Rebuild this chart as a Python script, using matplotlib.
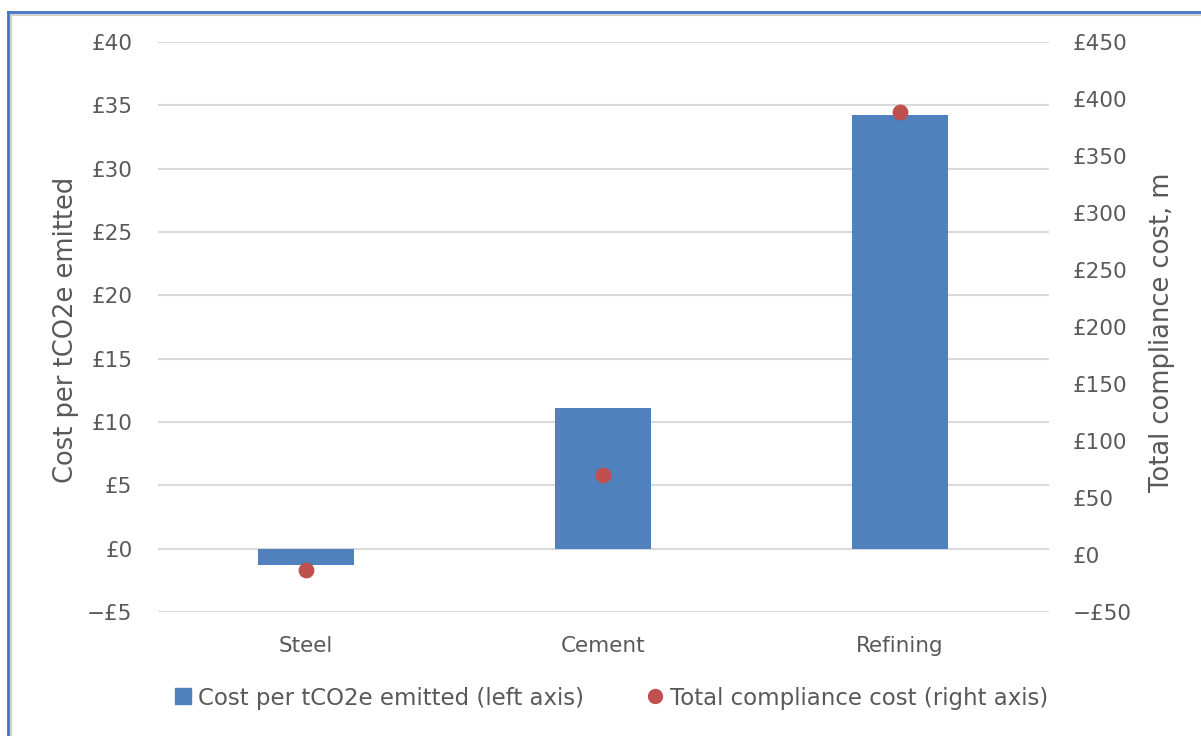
import matplotlib
matplotlib.use("Agg")
import matplotlib.pyplot as plt
from matplotlib.lines import Line2D

categories = ["Steel", "Cement", "Refining"]
cost_per_t = [-1.25, 11.1, 34.2]
total_cost = [-13, 70, 389]
left_ticks = [-5, 0, 5, 10, 15, 20, 25, 30, 35, 40]
right_ticks = [-50, 0, 50, 100, 150, 200, 250, 300, 350, 400, 450]

BLUE = "#4f81bd"
RED = "#c0504d"
GRAY = "#595959"
plt.rcParams['font.family'] = ['DejaVu Sans']


def fmt(v):
    return ("\u2212£%d" % abs(v)) if v < 0 else "£%d" % v


fig = plt.figure(figsize=(12.01, 7.36), dpi=100)
W, H = 1201, 736
ax = fig.add_axes([157.5 / W, 1 - 612 / H, (1048.5 - 157.5) / W, (612 - 42) / H])
x = list(range(len(categories)))
ax.bar(x, cost_per_t, width=0.32, color=BLUE, zorder=2)
ax.set_xlim(-0.5, 2.5)
ax.set_ylim(-5, 40)
ax.set_yticks(left_ticks)
ax.set_yticklabels([fmt(v) for v in left_ticks])
ax.yaxis.grid(True, color="#d9d9d9", linewidth=1.5, zorder=0)
ax.set_axisbelow(True)
ax.set_xticks(x)
ax.set_xticklabels(categories)
ax.tick_params(axis='both', length=0, labelsize=15.5, colors=GRAY)
ax.tick_params(axis='y', pad=18)
ax.tick_params(axis='x', pad=17)
for s in ax.spines.values():
    s.set_visible(False)

ax2 = ax.twinx()
ax2.scatter(x, total_cost, s=130, color=RED, zorder=3, linewidths=0)
ax2.set_ylim(-50, 450)
ax2.set_yticks(right_ticks)
ax2.set_yticklabels([fmt(v) for v in right_ticks])
ax2.tick_params(axis='y', length=0, labelsize=15.5, colors=GRAY, pad=17.5)
for s in ax2.spines.values():
    s.set_visible(False)

fig.text(66 / W, 1 - 330 / H, "Cost per tCO2e emitted", rotation=90, ha='center', va='center',
         fontsize=18.5, color=GRAY)
fig.text(1162 / W, 1 - 332 / H, "Total compliance cost, m", rotation=90, ha='center', va='center',
         fontsize=18.5, color=GRAY)

handles = [Line2D([], [], marker='s', linestyle='none', color=BLUE, markersize=11),
           Line2D([], [], marker='o', linestyle='none', color=RED, markersize=10)]
fig.legend(handles, ["Cost per tCO2e emitted (left axis)", "Total compliance cost (right axis)"],
           loc='center', bbox_to_anchor=(612 / W, 1 - 698 / H), ncol=2, frameon=False,
           fontsize=16.5, labelcolor=GRAY, handlelength=0.6, handletextpad=0.35,
           columnspacing=2.8)

# border
fig.add_artist(Line2D([8 / W, 8 / W], [0, 1 - 12 / H], transform=fig.transFigure, color="#4472c4", lw=2))
fig.add_artist(Line2D([8 / W, 1], [1 - 12 / H, 1 - 12 / H], transform=fig.transFigure, color="#4472c4", lw=2))
fig.add_artist(Line2D([11 / W, 11 / W], [0, 1 - 15 / H], transform=fig.transFigure, color="#d0d0d0", lw=1.5))
fig.add_artist(Line2D([11 / W, 1], [1 - 15 / H, 1 - 15 / H], transform=fig.transFigure, color="#d0d0d0", lw=1.5))

fig.savefig("out.png", dpi=100)
